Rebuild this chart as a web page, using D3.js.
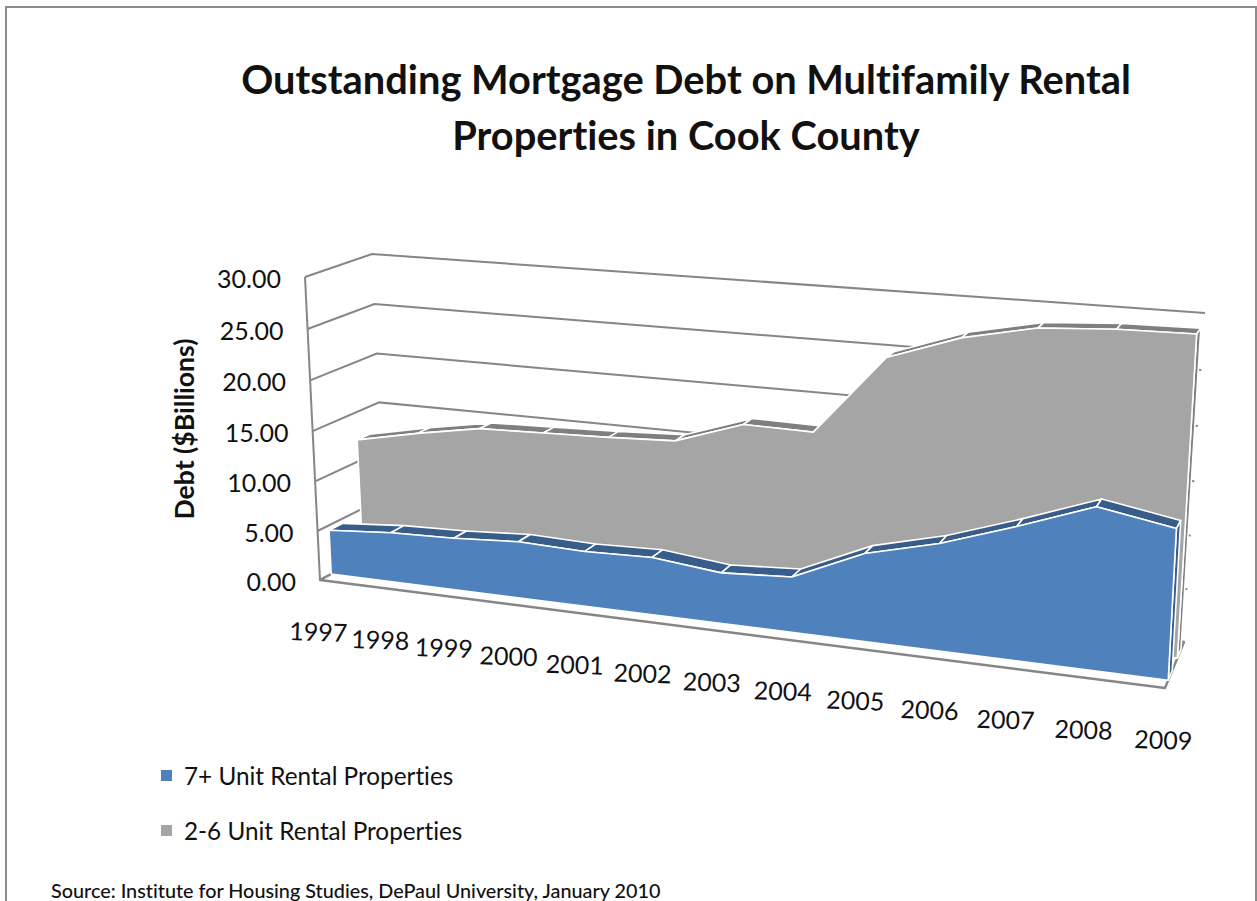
<!DOCTYPE html>
<html>
<head>
<meta charset="utf-8">
<title>Outstanding Mortgage Debt</title>
<script src="https://cdn.jsdelivr.net/npm/d3@7/dist/d3.min.js"></script>
<style>
  html, body { margin: 0; padding: 0; background: #fff; overflow: hidden; }
  svg { display: block; }
  text { font-family: Lato, "Open Sans", sans-serif; fill: #111; font-variant-ligatures: none; }
</style>
</head>
<body>
<script>
// Chart data: debt in $ billions by year, one array per series.
const years = [1997, 1998, 1999, 2000, 2001, 2002, 2003, 2004, 2005, 2006, 2007, 2008, 2009];
const largeBuildings = [4.5, 5.0, 5.2, 5.6, 5.4, 5.6, 4.9, 5.3, 8.3, 10.0, 12.3, 14.8, 13.6];
const smallBuildings = [12.2, 13.5, 14.6, 14.8, 15.0, 15.3, 17.5, 17.4, 24.9, 27.2, 28.6, 29.0, 29.1];
const valueTicks = [0, 5, 10, 15, 20, 25, 30];
const titleLines = ["Outstanding Mortgage Debt on Multifamily Rental", "Properties in Cook County"];
const legendLabels = ["7+ Unit Rental Properties", "2-6 Unit Rental Properties"];
const axisTitle = "Debt ($Billions)";
const sourceNote = "Source: Institute for Housing Studies, DePaul University, January 2010";

const W = 1257, H = 901;
const GRID = "#868686";

const svg = d3.select("body").append("svg").attr("width", W).attr("height", H);

// Frame of the chart area; the bottom edge runs off the page.
const frame = svg.append("g").attr("fill", "none").attr("stroke", "#8c8c8c");
frame.append("path").attr("d", `M6,${H + 4}V7H1256V${H + 4}`).attr("stroke-width", 2);

// Plain homography from the unit square onto a screen quadrilateral.
// Corners are listed as (0,0), (1,0), (1,1), (0,1).
function homography([p0, p1, p2, p3]) {
  const dx1 = p1[0] - p2[0], dx2 = p3[0] - p2[0], sx = p0[0] - p1[0] + p2[0] - p3[0];
  const dy1 = p1[1] - p2[1], dy2 = p3[1] - p2[1], sy = p0[1] - p1[1] + p2[1] - p3[1];
  const det = dx1 * dy2 - dx2 * dy1;
  const g = (sx * dy2 - dx2 * sy) / det, h = (dx1 * sy - sx * dy1) / det;
  const a = p1[0] - p0[0] + g * p1[0], b = p3[0] - p0[0] + h * p3[0], c = p0[0];
  const d = p1[1] - p0[1] + g * p1[1], e = p3[1] - p0[1] + h * p3[1], f = p0[1];
  return (u, v) => {
    const w = g * u + h * v + 1;
    return [(a * u + b * v + c) / w, (d * u + e * v + f) / w];
  };
}

// The box of the 3-D plot: front and back planes of the wall/floor volume.
const frontPlane = homography([[320, 580], [1165, 688], [1183, 343], [305, 277]]);
const backPlane = homography([[386, 545], [1184, 642], [1205, 313], [372, 254]]);

const xScale = d3.scalePoint().domain(years).range([0, 1]);
const yScale = d3.scaleLinear().domain([0, 30]).range([0, 1]);

// Screen position of a (year, value, depth) triple; depth 0 = front, 1 = back.
function project(year, value, depth) {
  const u = xScale(year), v = yScale(value);
  return d3.interpolateArray(frontPlane(u, v), backPlane(u, v))(depth);
}
const polyPath = pts => d3.line()(pts) + "Z";

// Gridlines: along the left wall then across the back wall.
const gridG = svg.append("g").attr("fill", "none").attr("stroke", GRID).attr("stroke-width", 2);
gridG.selectAll("path").data(valueTicks).join("path")
  .attr("d", t => d3.line()([project(years[0], t, 0), project(years[0], t, 1), project(years[12], t, 1)]));

// Vertical axis line and the floor.
const first = years[0], last = years[years.length - 1];
svg.append("path")
  .attr("d", polyPath([project(first, 0, 0), project(last, 0, 0), project(last, 0, 1), project(first, 0, 1)]))
  .attr("fill", "#fff").attr("stroke", GRID).attr("stroke-width", 2.4).attr("stroke-linejoin", "round");
svg.append("path")
  .attr("d", d3.line()([project(first, 30, 0), project(first, 0, 0)]))
  .attr("fill", "none").attr("stroke", GRID).attr("stroke-width", 2);

// One extruded area series: top facets, end cap, then the front face.
function drawSeries(values, z0, z1, faceColor, topColor) {
  const g = svg.append("g").attr("stroke", "#fff").attr("stroke-width", 1.6).attr("stroke-linejoin", "round");
  const segments = d3.pairs(years.map((y, i) => ({ y, v: values[i] })));
  g.selectAll("path.top").data(segments).join("path").attr("class", "top")
    .attr("fill", topColor)
    .attr("d", ([a, b]) => polyPath([
      project(a.y, a.v, z0), project(b.y, b.v, z0), project(b.y, b.v, z1), project(a.y, a.v, z1)
    ]));
  g.append("path").attr("fill", topColor)
    .attr("d", polyPath([
      project(last, 0, z0), project(last, values[values.length - 1], z0),
      project(last, values[values.length - 1], z1), project(last, 0, z1)
    ]));
  const outline = years.map((y, i) => project(y, values[i], z0));
  g.append("path").attr("fill", faceColor)
    .attr("d", polyPath([project(first, 0, z0), ...outline, project(last, 0, z0)]));
}
drawSeries(smallBuildings, 0.65, 0.84, "#A5A5A5", "#7F7F7F");
drawSeries(largeBuildings, 0.17, 0.38, "#4F81BD", "#385D8A");

// Value labels beside the front edge of the left wall.
const fmt = d3.format(".2f");
svg.append("g").attr("font-size", 25).attr("text-anchor", "end")
  .selectAll("text").data(valueTicks).join("text")
  .attr("x", t => project(first, t, 0)[0] - 24)
  .attr("y", t => project(first, t, 0)[1] + 11)
  .text(fmt);

// Year labels below the front floor edge, with a slight clockwise tilt.
svg.append("g").attr("font-size", 25).attr("text-anchor", "middle")
  .selectAll("text").data(years).join("text")
  .attr("transform", y => {
    const [px, py] = project(y, 0, 0);
    return `translate(${px - 2},${py + 61}) rotate(2)`;
  })
  .text(d => d);

// Titles.
svg.append("g").attr("font-size", 39.8).attr("font-weight", 700).attr("text-anchor", "middle")
  .selectAll("text").data(titleLines).join("text")
  .attr("x", 686).attr("y", (d, i) => 94 + i * 56).text(d => d);
svg.append("text").attr("font-size", 26.6).attr("font-weight", 700).attr("text-anchor", "middle")
  .attr("transform", "translate(194,429) rotate(-90)").text(axisTitle);

// Legend.
const legendColors = ["#4F81BD", "#A5A5A5"];
const legend = svg.append("g").selectAll("g").data(legendLabels).join("g")
  .attr("transform", (d, i) => `translate(161,${770 + i * 55})`);
legend.append("rect").attr("width", 11).attr("height", 11).attr("fill", (d, i) => legendColors[i]);
legend.append("text").attr("x", 23).attr("y", 15).attr("font-size", 24.3).text(d => d);

svg.append("text").attr("x", 51).attr("y", 898).attr("font-size", 19.8).attr("font-weight", 500).text(sourceNote);
</script>
</body>
</html>
